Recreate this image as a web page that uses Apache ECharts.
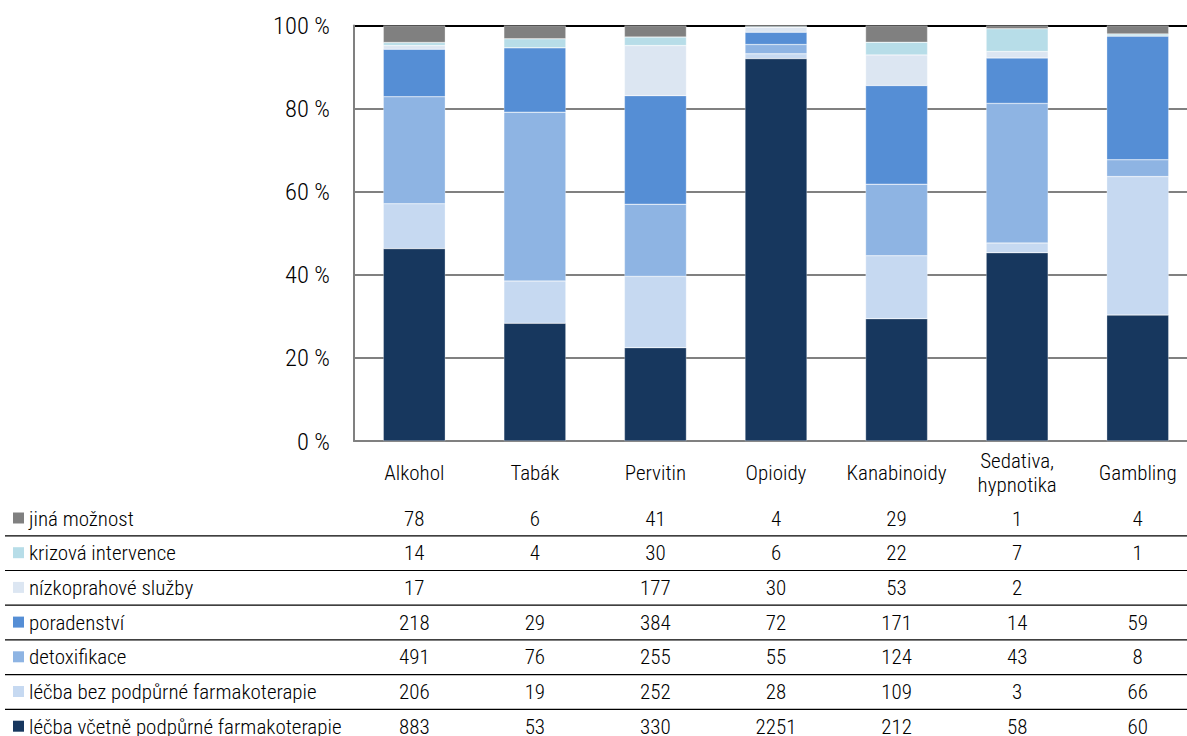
<!DOCTYPE html>
<html><head><meta charset="utf-8">
<script src="https://cdn.jsdelivr.net/npm/echarts@6/dist/echarts.min.js"></script>
<style>html,body{margin:0;padding:0;background:#fff}#c{width:1187px;height:736px}</style>
</head><body><div id="c"></div>
<script>
var categories = ['Alkohol','Tabák','Pervitin','Opioidy','Kanabinoidy','Sedativa,\nhypnotika','Gambling'];
var yTicks = [0,20,40,60,80,100];
// table rows, top to bottom
var seriesNames = ['jiná možnost','krizová intervence','nízkoprahové služby','poradenství','detoxifikace','léčba bez podpůrné farmakoterapie','léčba včetně podpůrné farmakoterapie'];
var jina = [78,6,41,4,29,1,4];
var krizova = [14,4,30,6,22,7,1];
var nizko = [17,null,177,30,53,2,null];
var poradenstvi = [218,29,384,72,171,14,59];
var detox = [491,76,255,55,124,43,8];
var bez = [206,19,252,28,109,3,66];
var vcetne = [883,53,330,2251,212,58,60];
var colors = ['#808080','#b7dde8','#dce6f2','#558ed5','#8eb4e3','#c6d9f1','#17375e'];

var rows = [jina,krizova,nizko,poradenstvi,detox,bez,vcetne];
var totals = categories.map(function(_,i){var s=0;rows.forEach(function(r){s+=r[i]||0});return s;});
function pct(arr){return arr.map(function(v,i){return v==null?0:v/totals[i]*100;});}

var FONT = '"Roboto Condensed","Liberation Sans Narrow",sans-serif';
var FW = 300;
var rowY0 = 518.5, rowStep = 34.7;

var series = [];
for (var k = rows.length-1; k >= 0; k--) {
  series.push({
    name: seriesNames[k], type:'bar', stack:'total', barWidth:62,
    data: pct(rows[k]),
    itemStyle:{color:colors[k], borderColor:'rgba(255,255,255,0.6)', borderWidth:0.5},
    silent:true, animation:false
  });
}
series.push({
  type:'custom', silent:true, animation:false, clip:false,
  data: categories.map(function(_,i){return [i,0];}),
  encode:{x:0,y:1},
  renderItem:function(params, api){
    var i = api.value(0);
    var x = api.coord([i,0])[0];
    var children = rows.map(function(r,k){
      return {type:'text', style:{text: r[i]==null?'':String(r[i]), x:x, y:rowY0+k*rowStep,
        align:'center', verticalAlign:'middle', fontSize:21, fontFamily:FONT, fontWeight:FW, fill:'#000'}};
    });
    return {type:'group', children:children};
  }
});

var graphics = [];
seriesNames.forEach(function(n,k){
  var y = rowY0 + k*rowStep;
  graphics.push({type:'rect', shape:{x:13,y:y-6,width:11,height:11}, style:{fill:colors[k]}, silent:true});
  graphics.push({type:'text', style:{text:n, x:29, y:y, verticalAlign:'middle', fontSize:21, fontFamily:FONT, fontWeight:FW, fill:'#000'}, silent:true});
  if (k>0) graphics.push({type:'line', shape:{x1:5,y1:y-17.4,x2:1187,y2:y-17.4}, style:{stroke:'#000',lineWidth:1.2}, silent:true});
});

var chart = echarts.init(document.getElementById('c'), null, {renderer:'svg'});
chart.setOption({
  animation:false,
  grid:{left:354, top:25.5, width:844, height:415.5, containLabel:false, outerBoundsMode:'none'},
  xAxis:{type:'category', data:categories,
    axisLine:{show:true, lineStyle:{color:'#808080', width:2}},
    axisTick:{show:false},
    axisLabel:{fontSize:21, fontFamily:FONT, fontWeight:FW, color:'#000', margin:32, verticalAlign:'middle', lineHeight:24, interval:0}},
  yAxis:{type:'value', min:0, max:100, interval:20,
    axisLine:{show:true, lineStyle:{color:'#808080', width:2}},
    axisTick:{show:false},
    axisLabel:{formatter:'{value} %', fontSize:24.5, fontFamily:FONT, fontWeight:FW, color:'#000', margin:24},
    splitLine:{show:true, lineStyle:{color:['#808080','#808080','#808080','#808080','#808080','#000'], width:2}}},
  series:series,
  graphic:graphics
});
</script></body></html>
